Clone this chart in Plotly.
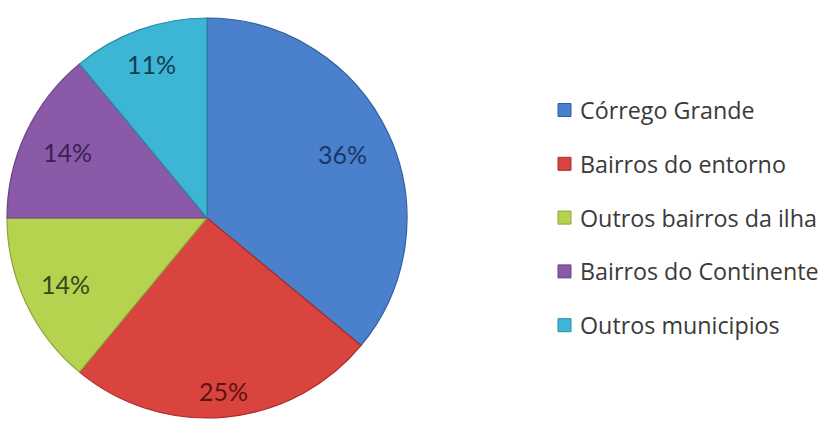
import math
import plotly.graph_objects as go

# Origin of respondents by neighbourhood
labels = ["Córrego Grande", "Bairros do entorno", "Outros bairros da ilha",
          "Bairros do Continente", "Outros municipios"]
values = [36, 25, 14, 14, 11]

slice_colors = ["#4a80cc", "#d9443f", "#b5d34f", "#8a5aa8", "#3db6d5"]
text_colors = ["#1a3766", "#5c1311", "#34481a", "#3a1f52", "#123f50"]
line_colors = ["#2f5f9e", "#a82f2b", "#8ea33a", "#6a4285", "#2a8aa5"]

W, H = 825, 428
FONT = "Lato, Open Sans, sans-serif"
LEGEND_FONT = "Open Sans, Lato, sans-serif"

# pie geometry (pixels)
cx, cy, R = 207, 218, 200
# radial placement of each percentage label, as a fraction of the radius
label_r = [0.75, 0.87, 0.78, 0.77, 0.82]

fig = go.Figure()
fig.add_trace(go.Pie(
    labels=labels,
    values=values,
    sort=False,
    direction="clockwise",
    rotation=0,
    marker=dict(colors=slice_colors, line=dict(color=line_colors, width=1.2)),
    textinfo="none",
    hoverinfo="label+percent",
    domain=dict(x=[(cx - R) / W, (cx + R) / W],
                y=[1 - (cy + R) / H, 1 - (cy - R) / H]),
    showlegend=False,
))

# percentage labels at the middle angle of each slice
total = sum(values)
acc = 0
for v, tc, fr in zip(values, text_colors, label_r):
    mid = (acc + v / 2) / total * 2 * math.pi
    acc += v
    px = cx + fr * R * math.sin(mid)
    py = cy - fr * R * math.cos(mid)
    fig.add_annotation(
        xref="paper", yref="paper", x=px / W, y=1 - py / H,
        xanchor="center", yanchor="middle", showarrow=False,
        text=f"{v}%", font=dict(family=FONT, size=25, color=tc),
    )

# legend drawn as coloured squares with text labels
legend_x0 = 558
legend_y0 = 110
legend_step = 53.8
sq = 13
for i, (lab, col) in enumerate(zip(labels, slice_colors)):
    yc = legend_y0 + i * legend_step
    fig.add_shape(
        type="rect", xref="paper", yref="paper",
        x0=legend_x0 / W, x1=(legend_x0 + sq) / W,
        y0=1 - (yc + sq / 2) / H, y1=1 - (yc - sq / 2) / H,
        fillcolor=col, line=dict(color=line_colors[i], width=1),
    )
    fig.add_annotation(
        xref="paper", yref="paper",
        x=(legend_x0 + sq + 7) / W, y=1 - yc / H,
        xanchor="left", yanchor="middle",
        text=lab, showarrow=False,
        font=dict(family=LEGEND_FONT, size=23.3, color="#3a3a3a"),
    )

fig.update_layout(
    width=W, height=H,
    margin=dict(l=0, r=0, t=0, b=0),
    paper_bgcolor="white",
    plot_bgcolor="white",
)

fig.write_html("out.html")
